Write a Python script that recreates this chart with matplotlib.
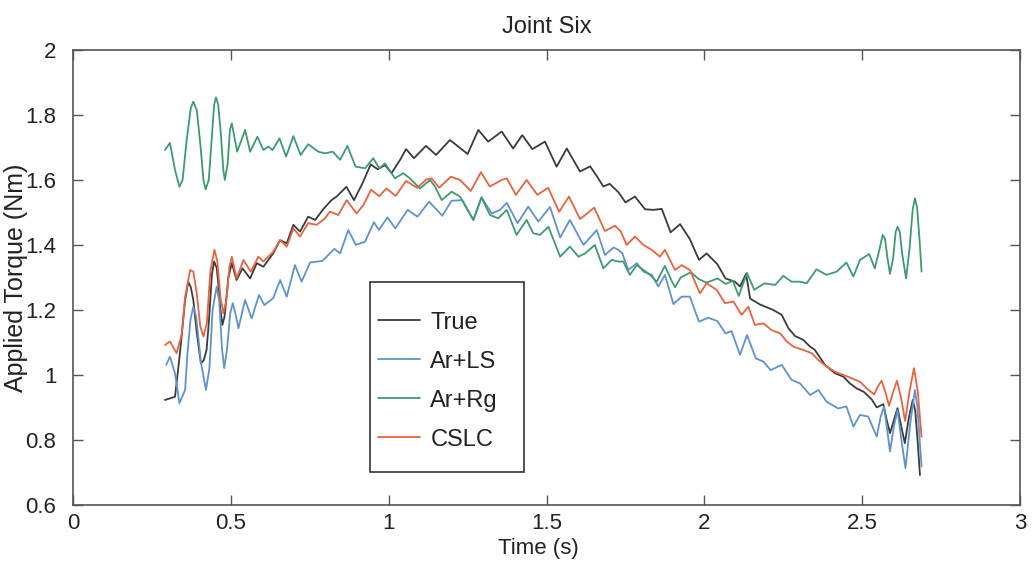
import matplotlib
matplotlib.use("Agg")
import matplotlib.pyplot as plt
from matplotlib.patches import Rectangle

# ---- data: applied torque at joint six (time in s, torque in Nm) ----
t_true = [0.291, 0.323, 0.328, 0.340, 0.355, 0.365, 0.373, 0.381, 0.392, 0.405,
          0.414, 0.423, 0.430, 0.440, 0.447, 0.455, 0.460, 0.467, 0.473, 0.480,
          0.492, 0.503, 0.518, 0.537, 0.561, 0.582, 0.603, 0.634, 0.656, 0.677,
          0.698, 0.719, 0.745, 0.767, 0.795, 0.819, 0.835, 0.866, 0.890, 0.917,
          0.943, 0.965, 0.988, 1.009, 1.036, 1.055, 1.080, 1.118, 1.150, 1.194,
          1.250, 1.284, 1.315, 1.358, 1.394, 1.423, 1.455, 1.495, 1.532, 1.564,
          1.606, 1.638, 1.659, 1.680, 1.700, 1.728, 1.750, 1.780, 1.812, 1.838,
          1.865, 1.893, 1.923, 1.954, 1.983, 2.007, 2.041, 2.067, 2.097, 2.113,
          2.132, 2.145, 2.176, 2.218, 2.245, 2.266, 2.287, 2.313, 2.335, 2.350,
          2.382, 2.414, 2.440, 2.461, 2.482, 2.505, 2.530, 2.546, 2.567, 2.578,
          2.588, 2.600, 2.612, 2.624, 2.635, 2.648, 2.660, 2.668, 2.676, 2.683]
v_true = [0.923, 0.933, 0.974, 1.080, 1.230, 1.287, 1.270, 1.231, 1.130, 1.036,
          1.045, 1.077, 1.160, 1.310, 1.349, 1.330, 1.282, 1.200, 1.154, 1.180,
          1.300, 1.344, 1.292, 1.328, 1.297, 1.344, 1.333, 1.374, 1.415, 1.405,
          1.462, 1.441, 1.487, 1.477, 1.513, 1.538, 1.549, 1.579, 1.538, 1.590,
          1.648, 1.633, 1.646, 1.621, 1.662, 1.695, 1.667, 1.705, 1.677, 1.723,
          1.680, 1.754, 1.718, 1.749, 1.697, 1.738, 1.695, 1.718, 1.641, 1.697,
          1.626, 1.642, 1.612, 1.580, 1.588, 1.562, 1.531, 1.549, 1.510, 1.508,
          1.511, 1.439, 1.464, 1.418, 1.354, 1.374, 1.341, 1.297, 1.287, 1.272,
          1.311, 1.235, 1.217, 1.200, 1.185, 1.144, 1.120, 1.108, 1.087, 1.077,
          1.031, 1.005, 0.995, 0.974, 0.959, 0.948, 0.925, 0.900, 0.910, 0.860,
          0.821, 0.860, 0.898, 0.840, 0.790, 0.870, 0.923, 0.890, 0.790, 0.692]

t_arls = [0.295, 0.307, 0.323, 0.337, 0.355, 0.362, 0.372, 0.381, 0.390, 0.405,
          0.421, 0.432, 0.442, 0.455, 0.463, 0.472, 0.479, 0.488, 0.498, 0.506,
          0.514, 0.524, 0.545, 0.566, 0.589, 0.606, 0.634, 0.656, 0.677, 0.703,
          0.724, 0.751, 0.790, 0.828, 0.846, 0.872, 0.896, 0.925, 0.953, 0.969,
          0.996, 1.021, 1.060, 1.091, 1.128, 1.170, 1.199, 1.233, 1.268, 1.294,
          1.326, 1.353, 1.374, 1.408, 1.442, 1.474, 1.511, 1.543, 1.574, 1.617,
          1.659, 1.685, 1.712, 1.728, 1.740, 1.759, 1.786, 1.807, 1.833, 1.854,
          1.875, 1.902, 1.928, 1.954, 1.983, 2.012, 2.041, 2.067, 2.086, 2.113,
          2.135, 2.163, 2.187, 2.210, 2.245, 2.276, 2.303, 2.335, 2.361, 2.387,
          2.424, 2.450, 2.472, 2.493, 2.519, 2.546, 2.558, 2.569, 2.578, 2.588,
          2.600, 2.612, 2.624, 2.637, 2.652, 2.667, 2.675, 2.682, 2.688]
v_arls = [1.031, 1.056, 1.005, 0.913, 0.954, 1.060, 1.170, 1.210, 1.180, 1.040,
          0.954, 1.020, 1.200, 1.272, 1.230, 1.080, 1.021, 1.080, 1.190, 1.221,
          1.190, 1.144, 1.231, 1.174, 1.246, 1.215, 1.236, 1.292, 1.241, 1.338,
          1.287, 1.346, 1.351, 1.388, 1.374, 1.446, 1.400, 1.410, 1.470, 1.446,
          1.485, 1.451, 1.508, 1.487, 1.533, 1.490, 1.536, 1.538, 1.477, 1.547,
          1.497, 1.508, 1.530, 1.467, 1.518, 1.472, 1.517, 1.423, 1.477, 1.400,
          1.446, 1.369, 1.392, 1.385, 1.374, 1.323, 1.344, 1.318, 1.308, 1.272,
          1.308, 1.218, 1.241, 1.241, 1.164, 1.176, 1.166, 1.128, 1.135, 1.062,
          1.123, 1.051, 1.041, 1.015, 1.031, 0.985, 0.974, 0.938, 0.954, 0.918,
          0.897, 0.903, 0.841, 0.877, 0.872, 0.810, 0.870, 0.903, 0.840, 0.764,
          0.840, 0.892, 0.800, 0.713, 0.850, 0.954, 0.900, 0.800, 0.718]

t_arrg = [0.291, 0.307, 0.323, 0.337, 0.347, 0.360, 0.373, 0.381, 0.392, 0.404,
          0.413, 0.420, 0.430, 0.439, 0.447, 0.453, 0.460, 0.469, 0.476, 0.481,
          0.490, 0.497, 0.503, 0.520, 0.545, 0.561, 0.584, 0.603, 0.619, 0.632,
          0.654, 0.675, 0.698, 0.721, 0.745, 0.777, 0.798, 0.823, 0.846, 0.869,
          0.895, 0.925, 0.951, 0.970, 0.988, 1.020, 1.046, 1.067, 1.099, 1.131,
          1.147, 1.168, 1.199, 1.226, 1.268, 1.294, 1.321, 1.347, 1.374, 1.405,
          1.437, 1.458, 1.479, 1.506, 1.543, 1.574, 1.601, 1.622, 1.653, 1.680,
          1.706, 1.728, 1.743, 1.764, 1.786, 1.807, 1.828, 1.849, 1.875, 1.896,
          1.907, 1.925, 1.957, 1.982, 2.007, 2.042, 2.068, 2.090, 2.109, 2.135,
          2.158, 2.190, 2.224, 2.250, 2.276, 2.303, 2.324, 2.355, 2.387, 2.419,
          2.450, 2.472, 2.493, 2.522, 2.540, 2.553, 2.565, 2.572, 2.580, 2.588,
          2.598, 2.606, 2.612, 2.619, 2.627, 2.639, 2.650, 2.660, 2.667, 2.674,
          2.682, 2.688]
v_arrg = [1.692, 1.714, 1.631, 1.579, 1.600, 1.723, 1.821, 1.841, 1.815, 1.703,
          1.600, 1.571, 1.600, 1.723, 1.831, 1.854, 1.831, 1.733, 1.631, 1.600,
          1.651, 1.754, 1.774, 1.687, 1.754, 1.687, 1.733, 1.692, 1.703, 1.692,
          1.728, 1.672, 1.735, 1.677, 1.710, 1.687, 1.682, 1.687, 1.662, 1.705,
          1.641, 1.636, 1.667, 1.636, 1.651, 1.605, 1.621, 1.605, 1.574, 1.600,
          1.579, 1.538, 1.564, 1.549, 1.477, 1.546, 1.492, 1.482, 1.508, 1.431,
          1.477, 1.436, 1.431, 1.456, 1.364, 1.395, 1.364, 1.374, 1.400, 1.328,
          1.354, 1.349, 1.349, 1.308, 1.338, 1.323, 1.308, 1.287, 1.336, 1.290,
          1.270, 1.300, 1.316, 1.295, 1.284, 1.297, 1.280, 1.290, 1.243, 1.314,
          1.262, 1.282, 1.277, 1.305, 1.287, 1.287, 1.282, 1.325, 1.308, 1.318,
          1.346, 1.303, 1.354, 1.372, 1.328, 1.380, 1.431, 1.420, 1.360, 1.311,
          1.360, 1.440, 1.456, 1.440, 1.370, 1.297, 1.390, 1.510, 1.544, 1.515,
          1.410, 1.318]

t_cslc = [0.291, 0.307, 0.328, 0.344, 0.355, 0.371, 0.381, 0.392, 0.403, 0.413,
          0.424, 0.435, 0.448, 0.457, 0.467, 0.476, 0.486, 0.495, 0.503, 0.518,
          0.540, 0.563, 0.587, 0.603, 0.634, 0.656, 0.677, 0.698, 0.719, 0.745,
          0.772, 0.798, 0.814, 0.840, 0.867, 0.898, 0.920, 0.944, 0.970, 0.993,
          1.022, 1.055, 1.090, 1.120, 1.136, 1.160, 1.197, 1.226, 1.260, 1.292,
          1.320, 1.358, 1.374, 1.403, 1.437, 1.471, 1.505, 1.540, 1.571, 1.606,
          1.620, 1.651, 1.685, 1.717, 1.735, 1.754, 1.780, 1.807, 1.833, 1.859,
          1.875, 1.907, 1.928, 1.954, 1.986, 2.007, 2.039, 2.065, 2.092, 2.118,
          2.139, 2.160, 2.187, 2.213, 2.240, 2.261, 2.282, 2.313, 2.340, 2.361,
          2.387, 2.414, 2.440, 2.466, 2.493, 2.514, 2.538, 2.550, 2.561, 2.573,
          2.585, 2.597, 2.610, 2.623, 2.636, 2.650, 2.664, 2.676, 2.688]
v_cslc = [1.092, 1.103, 1.067, 1.123, 1.240, 1.323, 1.318, 1.250, 1.150, 1.118,
          1.160, 1.320, 1.385, 1.350, 1.240, 1.190, 1.230, 1.330, 1.364, 1.297,
          1.354, 1.318, 1.364, 1.349, 1.379, 1.415, 1.395, 1.451, 1.426, 1.467,
          1.462, 1.482, 1.503, 1.492, 1.538, 1.497, 1.523, 1.570, 1.550, 1.574,
          1.551, 1.597, 1.576, 1.602, 1.605, 1.576, 1.610, 1.600, 1.566, 1.624,
          1.580, 1.600, 1.605, 1.554, 1.600, 1.554, 1.576, 1.502, 1.549, 1.480,
          1.490, 1.515, 1.443, 1.459, 1.442, 1.400, 1.426, 1.400, 1.385, 1.364,
          1.385, 1.323, 1.338, 1.323, 1.251, 1.282, 1.262, 1.221, 1.226, 1.185,
          1.210, 1.154, 1.159, 1.138, 1.128, 1.103, 1.087, 1.077, 1.067, 1.046,
          1.026, 1.010, 1.000, 0.990, 0.979, 0.959, 0.940, 0.965, 0.982, 0.950,
          0.905, 0.945, 0.982, 0.930, 0.858, 0.950, 1.021, 0.950, 0.810]

series_labels = ["True", "Ar+LS", "Ar+Rg", "CSLC"]
series_colors = ["#3b3b3b", "#5f93cc", "#3f9b6e", "#e8643f"]

x_ticks = [0, 0.5, 1, 1.5, 2, 2.5, 3]
x_tick_labels = ["0", "0.5", "1", "1.5", "2", "2.5", "3"]
y_ticks = [0.6, 0.8, 1.0, 1.2, 1.4, 1.6, 1.8, 2.0]
y_tick_labels = ["0.6", "0.8", "1", "1.2", "1.4", "1.6", "1.8", "2"]

plt.rcParams["font.family"] = ["Liberation Sans", "DejaVu Sans"]

fig = plt.figure(figsize=(10.36, 5.68), dpi=100)
ax = fig.add_axes([0.0705, 0.111, 0.9141, 0.801])

series = [(t_true, v_true), (t_arls, v_arls), (t_arrg, v_arrg), (t_cslc, v_cslc)]
handles = []
for (t, v), lab, col in zip(series, series_labels, series_colors):
    h, = ax.plot(t, v, color=col, lw=1.3, label=lab,
                 solid_joinstyle="round", solid_capstyle="round")
    handles.append(h)

ax.set_xlim(0, 3)
ax.set_ylim(0.6, 2.0)
ax.set_xticks(x_ticks)
ax.set_xticklabels(x_tick_labels)
ax.set_yticks(y_ticks)
ax.set_yticklabels(y_tick_labels)

ax.tick_params(direction="in", length=7, width=1.0, color="#555555",
               top=True, right=True, labelsize=16, labelcolor="#222222")
ax.tick_params(axis="x", pad=6)
ax.tick_params(axis="y", pad=12)
for sp in ax.spines.values():
    sp.set_color("#555555")
    sp.set_linewidth(1.2)

ax.set_title("Joint Six", fontsize=17, pad=12, color="#222222")
ax.set_xlabel("Time (s)", fontsize=16, color="#222222")
ax.xaxis.set_label_coords(0.491, -0.072, transform=ax.transAxes)
ax.set_ylabel("Applied Torque (Nm)", fontsize=18, color="#222222")
ax.yaxis.set_label_coords(-0.0475, 0.5, transform=ax.transAxes)

# legend: entries without their own frame, boxed by a rectangle in axes space
ax.add_patch(Rectangle((0.314, 0.073), 0.1625, 0.417, transform=ax.transAxes,
                       fill=True, facecolor="white", edgecolor="#333333",
                       lw=1.2, zorder=4))
leg = ax.legend(handles=handles, loc="upper left", bbox_to_anchor=(0.322, 0.425),
                frameon=False, fontsize=17, handlelength=1.8, handletextpad=0.42,
                labelspacing=0.72, borderpad=0, borderaxespad=0)
leg.set_zorder(5)
for txt in leg.get_texts():
    txt.set_color("#222222")

fig.savefig("out.png", dpi=100, facecolor="white")
